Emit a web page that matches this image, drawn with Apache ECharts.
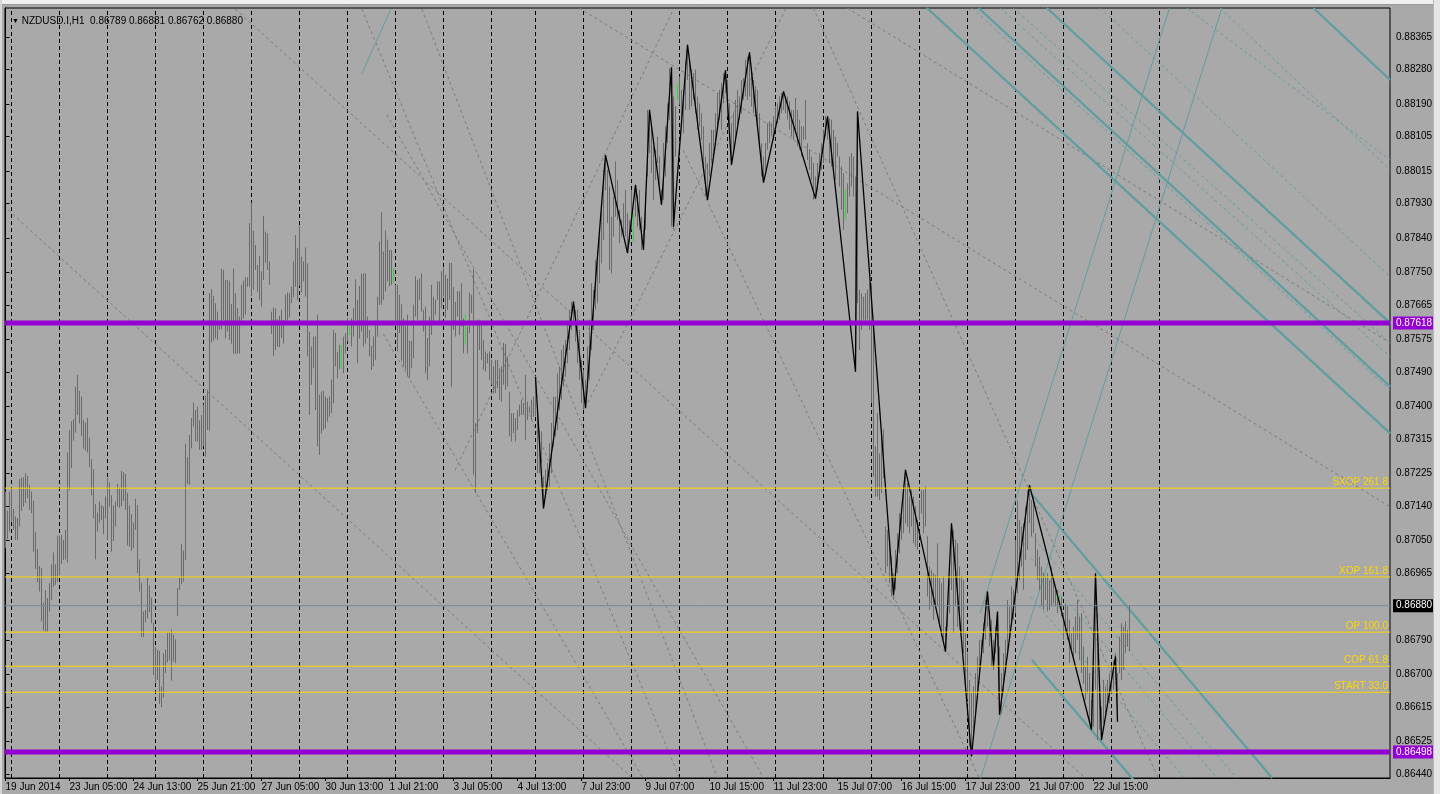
<!DOCTYPE html>
<html><head><meta charset="utf-8">
<script src="https://cdn.jsdelivr.net/npm/echarts@6.0.0/dist/echarts.min.js"></script>
<style>html,body{margin:0;padding:0;background:#A9A9A9;overflow:hidden}#c{width:1440px;height:794px}</style>
</head><body><div id="c"></div><script>
// ---------- data ----------
const symbolHeader = 'NZDUSD.I,H1  0.86789 0.86881 0.86762 0.86880';
const highs = [
0.87178,0.87128,0.87178,0.87187,0.87133,0.87113,0.87109,0.87211,0.87215,0.87215,
0.87226,0.87219,0.87196,0.87178,0.87154,0.87073,0.87028,0.86984,0.86978,0.86888,
0.86921,0.86900,0.86939,0.86988,0.87019,0.86988,0.87063,0.87063,0.87065,0.87052,
0.87078,0.87280,0.87339,0.87362,0.87367,0.87452,0.87483,0.87441,0.87426,0.87365,
0.87358,0.87370,0.87319,0.87263,0.87237,0.87145,0.87123,0.87152,0.87142,0.87139,
0.87165,0.87213,0.87202,0.87168,0.87142,0.87152,0.87198,0.87188,0.87232,0.87229,
0.87224,0.87175,0.87142,0.87119,0.87097,0.87159,0.87143,0.87001,0.86940,0.86865,
0.86869,0.86954,0.86933,0.86901,0.86836,0.86771,0.86765,0.86762,0.86669,0.86756,
0.86765,0.86810,0.86810,0.86818,0.86804,0.86792,0.86926,0.86954,0.87041,0.87024,
0.87303,0.87268,0.87326,0.87370,0.87411,0.87391,0.87400,0.87364,0.87378,0.87406,
0.87428,0.87444,0.87696,0.87707,0.87689,0.87670,0.87648,0.87624,0.87760,0.87757,
0.87731,0.87731,0.87729,0.87668,0.87760,0.87696,0.87657,0.87635,0.87718,0.87729,
0.87738,0.87738,0.87879,0.87933,0.87859,0.87822,0.87770,0.87794,0.87753,0.87898,
0.87857,0.87853,0.87779,0.87648,0.87659,0.87657,0.87628,0.87637,0.87653,0.87626,
0.87692,0.87698,0.87696,0.87713,0.87779,0.87848,0.87814,0.87872,0.87792,0.87779,
0.87816,0.87774,0.87596,0.87557,0.87583,0.87583,0.87640,0.87431,0.87439,0.87441,
0.87426,0.87422,0.87426,0.87471,0.87600,0.87592,0.87542,0.87561,0.87561,0.87583,
0.87592,0.87631,0.87609,0.87631,0.87657,0.87733,0.87679,0.87715,0.87747,0.87748,
0.87748,0.87635,0.87600,0.87559,0.87583,0.87618,0.87687,0.87831,0.87908,0.87805,
0.87860,0.87836,0.87809,0.87809,0.87763,0.87718,0.87718,0.87692,0.87667,0.87631,
0.87609,0.87640,0.87572,0.87572,0.87666,0.87740,0.87731,0.87735,0.87748,0.87653,
0.87661,0.87579,0.87635,0.87718,0.87687,0.87679,0.87727,0.87727,0.87753,0.87762,
0.87744,0.87735,0.87776,0.87775,0.87712,0.87674,0.87701,0.87701,0.87722,0.87631,
0.87640,0.87609,0.87698,0.87692,0.87759,0.87357,0.87627,0.87627,0.87622,0.87574,
0.87544,0.87539,0.87544,0.87522,0.87505,0.87522,0.87522,0.87500,0.87505,0.87566,
0.87564,0.87531,0.87439,0.87383,0.87383,0.87370,0.87391,0.87405,0.87418,0.87409,
0.87483,0.87413,0.87400,0.87418,0.87426,0.87478,0.87383,0.87339,0.87335,0.87217,
0.87235,0.87252,0.87304,0.87357,0.87426,0.87426,0.87487,0.87505,0.87548,0.87561,
0.87574,0.87618,0.87653,0.87674,0.87674,0.87653,0.87653,0.87600,0.87522,0.87496,
0.87470,0.87557,0.87627,0.87722,0.87705,0.87783,0.87809,0.87844,0.87914,0.88018,
0.88057,0.88018,0.87975,0.87896,0.87949,0.88040,0.87992,0.87914,0.87888,0.87931,
0.87966,0.87905,0.87888,0.87966,0.87905,0.87979,0.87953,0.87966,0.87896,0.87862,
0.87957,0.88175,0.88158,0.88132,0.88079,0.88071,0.88105,0.88053,0.87966,0.88088,
0.88132,0.88192,0.88284,0.88286,0.88210,0.88184,0.88245,0.88262,0.88227,0.88227,
0.88301,0.88345,0.88306,0.88280,0.88271,0.88280,0.88210,0.88192,0.88166,0.88132,
0.88053,0.88036,0.88088,0.88123,0.88123,0.88166,0.88219,0.88227,0.88245,0.88271,
0.88278,0.88253,0.88192,0.88140,0.88166,0.88201,0.88227,0.88210,0.88253,0.88258,
0.88306,0.88314,0.88325,0.88271,0.88253,0.88236,0.88227,0.88166,0.88088,0.88053,
0.88088,0.88140,0.88145,0.88140,0.88158,0.88184,0.88192,0.88210,0.88219,0.88223,
0.88210,0.88210,0.88197,0.88175,0.88175,0.88206,0.88175,0.88149,0.88132,0.88132,
0.88201,0.88088,0.88071,0.88053,0.88036,0.88001,0.88036,0.88062,0.88088,0.88123,
0.88158,0.88158,0.88153,0.88149,0.88123,0.88105,0.88088,0.88053,0.88027,0.88010,
0.87966,0.87983,0.88053,0.88062,0.88053,0.88001,0.88171,0.87705,0.87696,0.87687,
0.87696,0.87705,0.87722,0.87722,0.87600,0.87296,0.87383,0.87278,0.87330,0.87340,
0.87087,0.87078,0.87052,0.87008,0.86965,0.87026,0.87069,0.87121,0.87113,0.87182,
0.87235,0.87200,0.87165,0.87182,0.87165,0.87139,0.87104,0.87156,0.87182,0.87182,
0.87191,0.87061,0.86982,0.86973,0.86965,0.86960,0.87043,0.86952,0.86939,0.86956,
0.86825,0.86895,0.86947,0.87095,0.87078,0.87052,0.87043,0.86982,0.86956,0.86947,
0.86808,0.86756,0.86686,0.86651,0.86669,0.86704,0.86747,0.86791,0.86791,0.86834,
0.86895,0.86917,0.86869,0.86843,0.86791,0.86825,0.86860,0.86773,0.86704,0.86756,
0.86791,0.86895,0.86878,0.86930,0.86921,0.87052,0.87156,0.87104,0.87087,0.87095,
0.87139,0.87182,0.87195,0.87156,0.87165,0.87069,0.87026,0.87008,0.86982,0.86965,
0.86956,0.86965,0.86947,0.86982,0.86947,0.86930,0.86921,0.86908,0.86904,0.86860,
0.86886,0.86878,0.86843,0.86808,0.86825,0.86852,0.86895,0.86852,0.86860,0.86773,
0.86721,0.86747,0.86704,0.86634,0.86712,0.86965,0.86860,0.86712,0.86617,0.86686,
0.86669,0.86686,0.86704,0.86721,0.86738,0.86756,0.86704,0.86799,0.86834,0.86825,
0.86839,0.86817,0.86881
];
const lows = [
0.87030,0.87054,0.87074,0.87100,0.87078,0.87052,0.87052,0.87087,0.87128,0.87139,
0.87148,0.87161,0.87130,0.87122,0.87021,0.86976,0.86941,0.86917,0.86839,0.86815,
0.86812,0.86812,0.86865,0.86895,0.86930,0.86934,0.86943,0.86960,0.86989,0.87000,
0.87001,0.86993,0.87181,0.87239,0.87311,0.87332,0.87378,0.87356,0.87324,0.87290,
0.87285,0.87280,0.87242,0.87168,0.87108,0.87001,0.87074,0.87097,0.87104,0.87067,
0.87108,0.87052,0.87139,0.87021,0.87049,0.87087,0.87139,0.87136,0.87139,0.87154,
0.87130,0.87037,0.87034,0.87024,0.87030,0.87078,0.86965,0.86917,0.86799,0.86798,
0.86837,0.86847,0.86863,0.86834,0.86699,0.86680,0.86686,0.86623,0.86615,0.86640,
0.86704,0.86732,0.86738,0.86684,0.86734,0.86730,0.86853,0.86921,0.86936,0.86943,
0.87000,0.87198,0.87196,0.87291,0.87348,0.87309,0.87309,0.87287,0.87287,0.87296,
0.87269,0.87339,0.87337,0.87567,0.87572,0.87578,0.87574,0.87600,0.87602,0.87626,
0.87578,0.87596,0.87574,0.87564,0.87538,0.87538,0.87538,0.87539,0.87616,0.87631,
0.87640,0.87713,0.87713,0.87689,0.87705,0.87757,0.87700,0.87679,0.87661,0.87731,
0.87776,0.87757,0.87718,0.87590,0.87532,0.87548,0.87557,0.87555,0.87579,0.87565,
0.87613,0.87625,0.87633,0.87670,0.87686,0.87713,0.87679,0.87715,0.87698,0.87727,
0.87687,0.87531,0.87378,0.87457,0.87500,0.87391,0.87296,0.87274,0.87330,0.87339,
0.87343,0.87361,0.87374,0.87383,0.87409,0.87505,0.87474,0.87498,0.87498,0.87487,
0.87539,0.87570,0.87587,0.87557,0.87583,0.87626,0.87513,0.87578,0.87596,0.87557,
0.87565,0.87579,0.87531,0.87496,0.87505,0.87522,0.87583,0.87666,0.87666,0.87679,
0.87701,0.87727,0.87714,0.87718,0.87722,0.87622,0.87544,0.87592,0.87520,0.87505,
0.87496,0.87479,0.87474,0.87500,0.87526,0.87635,0.87627,0.87679,0.87648,0.87596,
0.87487,0.87470,0.87505,0.87587,0.87618,0.87640,0.87679,0.87618,0.87657,0.87687,
0.87631,0.87653,0.87679,0.87452,0.87600,0.87583,0.87635,0.87587,0.87609,0.87539,
0.87561,0.87539,0.87592,0.87644,0.87222,0.87174,0.87331,0.87548,0.87522,0.87496,
0.87492,0.87513,0.87470,0.87457,0.87435,0.87435,0.87448,0.87418,0.87413,0.87457,
0.87444,0.87452,0.87322,0.87309,0.87331,0.87309,0.87339,0.87374,0.87378,0.87378,
0.87313,0.87365,0.87383,0.87365,0.87374,0.87374,0.87226,0.87226,0.87252,0.87134,
0.87165,0.87182,0.87191,0.87226,0.87296,0.87322,0.87339,0.87391,0.87418,0.87452,
0.87478,0.87513,0.87548,0.87600,0.87618,0.87570,0.87513,0.87470,0.87409,0.87391,
0.87396,0.87461,0.87470,0.87548,0.87600,0.87653,0.87670,0.87722,0.87774,0.87835,
0.87966,0.87879,0.87757,0.87748,0.87844,0.87896,0.87888,0.87827,0.87844,0.87853,
0.87844,0.87801,0.87827,0.87862,0.87831,0.87896,0.87870,0.87862,0.87809,0.87809,
0.87862,0.88001,0.88062,0.88010,0.87940,0.87992,0.88036,0.87966,0.87931,0.87940,
0.88001,0.88088,0.88149,0.87870,0.87862,0.88053,0.88201,0.88188,0.88158,0.88114,
0.88175,0.88253,0.88175,0.88184,0.88201,0.88166,0.88123,0.88132,0.88097,0.88018,
0.87949,0.87940,0.88001,0.88036,0.88053,0.88088,0.88123,0.88149,0.88123,0.88192,
0.88219,0.88158,0.88097,0.88031,0.88062,0.88097,0.88132,0.88149,0.88166,0.88201,
0.88210,0.88201,0.88210,0.88184,0.88166,0.88158,0.88123,0.88088,0.88001,0.87985,
0.88018,0.88071,0.88088,0.88105,0.88097,0.88123,0.88140,0.88149,0.88166,0.88175,
0.88166,0.88149,0.88123,0.88105,0.88097,0.88114,0.88079,0.88071,0.88053,0.88097,
0.88097,0.88044,0.88018,0.87992,0.87940,0.87943,0.87966,0.88001,0.88018,0.88036,
0.88105,0.88097,0.88036,0.88027,0.88018,0.87992,0.88053,0.87975,0.87914,0.87862,
0.87888,0.87905,0.87949,0.87975,0.87949,0.87491,0.87670,0.87548,0.87600,0.87627,
0.87618,0.87627,0.87600,0.87409,0.87217,0.87165,0.87165,0.87156,0.87174,0.87213,
0.86965,0.86982,0.86939,0.86904,0.86895,0.86921,0.86965,0.87017,0.87052,0.87069,
0.87095,0.87087,0.87069,0.87087,0.87043,0.87034,0.87026,0.87104,0.87121,0.87069,
0.87087,0.86904,0.86869,0.86878,0.86843,0.86878,0.86878,0.86825,0.86799,0.86791,
0.86760,0.86825,0.86860,0.86921,0.86808,0.86878,0.86825,0.86817,0.86808,0.86756,
0.86651,0.86634,0.86512,0.86486,0.86529,0.86590,0.86634,0.86686,0.86756,0.86756,
0.86791,0.86825,0.86773,0.86721,0.86712,0.86756,0.86773,0.86595,0.86599,0.86651,
0.86704,0.86747,0.86791,0.86825,0.86843,0.86860,0.86912,0.86947,0.86982,0.86921,
0.86999,0.87026,0.87095,0.87061,0.87069,0.86982,0.86947,0.86921,0.86878,0.86869,
0.86895,0.86865,0.86869,0.86878,0.86886,0.86878,0.86860,0.86873,0.86852,0.86791,
0.86808,0.86791,0.86730,0.86756,0.86738,0.86756,0.86791,0.86738,0.86704,0.86677,
0.86634,0.86651,0.86573,0.86556,0.86564,0.86660,0.86529,0.86556,0.86529,0.86573,
0.86590,0.86617,0.86625,0.86651,0.86660,0.86686,0.86577,0.86704,0.86686,0.86712,
0.86756,0.86773,0.86762
];
const greenBars = [168,172,194,230,314,336,420,527];
const zigzagBars = [265,269,284,290,300,311,315,319,322,328,333,334,341,351,360,363,372,379,389,405,411,425,426,444,450,470,473,483,491,494,496,497,512,543,545,548,555,556];
const zigzagPrices = [0.87478,0.87134,0.87674,0.87396,0.88057,0.87801,0.87979,0.87809,0.88175,0.87927,0.88286,0.87870,0.88345,0.87940,0.88278,0.88031,0.88325,0.87985,0.88223,0.87943,0.88158,0.87491,0.88171,0.86908,0.87235,0.86760,0.87095,0.86486,0.86917,0.86721,0.86865,0.86595,0.87195,0.86556,0.86965,0.86529,0.86747,0.86577];
const xLabelBars = [0,32,64,96,128,160,192,224,256,288,320,352,384,416,448,480,512,544];
const xLabelTexts = ['19 Jun 2014','23 Jun 05:00','24 Jun 13:00','25 Jun 21:00','27 Jun 05:00','30 Jun 13:00','1 Jul 21:00','3 Jul 05:00','4 Jul 13:00','7 Jul 23:00','9 Jul 07:00','10 Jul 15:00','11 Jul 23:00','15 Jul 07:00','16 Jul 15:00','17 Jul 23:00','21 Jul 07:00','22 Jul 15:00'];
const separatorBars = [3,27,51,75,99,123,147,171,195,219,243,265,289,313,337,361,385,409,433,457,481,505,529,553,577];
const yTickValues = [0.88365,0.88280,0.88190,0.88105,0.88015,0.87930,0.87840,0.87750,0.87665,0.87575,0.87490,0.87400,0.87315,0.87225,0.87140,0.87050,0.86965,0.86790,0.86700,0.86615,0.86525,0.86440];
const levelNames = ['SXOP 261.8','XOP 161.8','OP 100.0','COP 61.8','START 33.0'];
const levelPrices = [0.87187,0.86955,0.86811,0.86722,0.86654];
const supportPrices = [0.87618,0.86498];
const bidPrice = 0.86880;
const thickCyanLines = [
  [[460.7,0.88441],[692.35,0.87330]],
  [[486.5,0.88441],[692.35,0.87452]],
  [[520.7,0.88441],[692.35,0.87618]],
  [[654.0,0.88441],[692.35,0.88253]],
  [[512.7,0.87174],[633.35,0.86430]],
  [[513.2,0.86738],[564.0,0.86425]]
];
const thinCyanLines = [
  [[178.2,0.88270],[192.7,0.88438]],
  [[487.35,0.86861],[582.0,0.88441]],
  [[487.35,0.86425],[608.2,0.88441]]
];
const dashedCyanLines = [
  [[483.2,0.88441],[692.35,0.87443]],
  [[497.35,0.88441],[692.35,0.87530]],
  [[503.85,0.88441],[692.35,0.87566]],
  [[547.35,0.88441],[692.35,0.87739]],
  [[590.7,0.88441],[692.35,0.88044]],
  [[607.35,0.88441],[692.35,0.88018]],
  [[512.7,0.87065],[615.65,0.86430]],
  [[512.7,0.87004],[605.8,0.86430]],
  [[512.7,0.86903],[589.5,0.86430]]
];
const dashedGrayLines = [
  [[1.35,0.87913],[313.35,0.86430]],
  [[114.85,0.88438],[539.85,0.86430]],
  [[178.2,0.88438],[337.0,0.86430]],
  [[208.2,0.88438],[356.0,0.86430]],
  [[190.7,0.88162],[379.05,0.86430]],
  [[188.85,0.87590],[318.75,0.86430]],
  [[286.85,0.88441],[692.35,0.87138]],
  [[420.85,0.88441],[692.35,0.87566]],
  [[338.85,0.88070],[486.85,0.86430]],
  [[403.85,0.88441],[576.35,0.86430]],
  [[224.85,0.87234],[334.0,0.88438]],
  [[289.85,0.87396],[390.35,0.88441]]
];

// ---------- chart ----------
const FONT = '"Liberation Sans",Arial,sans-serif';
const CYAN = '#5F9EA0';
const XMIN = -0.25, XMAX = 692.25;
const chart = echarts.init(document.getElementById('c'), null, {renderer:'canvas'});
const barData = highs.map((h,i)=>[i, h, lows[i], greenBars.includes(i)?1:0]);

function segSeries(list, style, z){
  return list.map(pts => ({type:'line', data:pts, symbol:'none', silent:true, animation:false, clip:true, z:z, lineStyle:style}));
}

const series = [];
// day separators
series.push(...separatorBars.map(b => ({type:'line', data:[[b,0.86430],[b,0.88441]], symbol:'none', silent:true, animation:false, z:1,
  lineStyle:{color:'#000', type:[4,3], width:1}})));
series.push(...segSeries(dashedGrayLines, {color:'#7c7c7c', width:1, type:[3,3]}, 2));
series.push(...segSeries(dashedCyanLines, {color:CYAN, width:1, type:[3,3]}, 2));
series.push(...segSeries(thinCyanLines, {color:CYAN, width:1}, 2));
series.push(...segSeries(thickCyanLines, {color:CYAN, width:2.2}, 2));
series.push({type:'custom', data:barData, z:3, silent:true, animation:false, clip:true,
  encode:{x:0, y:[1,2]},
  renderItem:function(params, api){
    const i = api.value(0);
    const t = api.coord([i, api.value(1)]);
    const b = api.coord([i, api.value(2)]);
    const x = Math.round(t[0]-0.5)+0.5;
    let y1 = t[1], y2 = b[1];
    if (y2 - y1 < 1) y2 = y1 + 1;
    return {type:'line', shape:{x1:x, y1:y1, x2:x, y2:y2},
      style:{stroke: api.value(3) ? '#33d633' : '#6a6a6a', lineWidth:1}};
  }});
series.push({type:'line', data: zigzagBars.map((b,i)=>[b, zigzagPrices[i]]), symbol:'none', silent:true, animation:false, z:4,
  lineStyle:{color:'#000', width:1.3}});
// Fibonacci-style levels with captions at the right end, above the line
levelPrices.forEach((p,i) => series.push({type:'line', symbol:'none', silent:true, animation:false, z:5,
  lineStyle:{color:'#FFD700', width:1},
  data:[[XMIN,p],[XMAX,p]],
  endLabel:{show:true, formatter:levelNames[i], distance:0, align:'right', verticalAlign:'bottom', offset:[-2,-1],
    color:'#FFD700', fontSize:10, fontFamily:FONT}}));
// bid line
series.push({type:'line', symbol:'none', silent:true, animation:false, z:5,
  lineStyle:{color:'#778899', width:1}, data:[[XMIN,bidPrice],[XMAX,bidPrice]],
  endLabel:{show:true, formatter:bidPrice.toFixed(5), distance:3, color:'#fff', backgroundColor:'#000', padding:[2,3,1,3], fontSize:10, fontFamily:FONT}});
// support / resistance lines
supportPrices.forEach(p => series.push({type:'line', symbol:'none', silent:true, animation:false, z:6,
  lineStyle:{color:'#9400D3', width:5}, data:[[XMIN,p],[XMAX,p]],
  endLabel:{show:true, formatter:p.toFixed(5), distance:3, color:'#fff', backgroundColor:'#9400D3', padding:[2,3,1,3], fontSize:10, fontFamily:FONT}}));

chart.setOption({
  animation:false,
  backgroundColor:'#A9A9A9',
  title:{text:'{t|▼} ' + symbolHeader, left:7, top:11,
    textStyle:{fontSize:10, fontWeight:'normal', color:'#000', fontFamily:FONT, rich:{t:{fontSize:7, color:'#000'}}}},
  grid:{left:5, top:8, width:1385, height:770, show:true, borderColor:'#000', borderWidth:1, backgroundColor:'transparent'},
  xAxis:{type:'value', min:XMIN, max:XMAX,
    axisLine:{show:true, lineStyle:{color:'#000'}},
    axisTick:{show:true, customValues:xLabelBars, length:3, lineStyle:{color:'#000'}},
    axisLabel:{customValues:xLabelBars, align:'left', margin:4, fontSize:10, color:'#000', fontFamily:FONT,
      formatter:v=>{const k=xLabelBars.indexOf(Math.round(v)); return k>=0?xLabelTexts[k]:'';}},
    splitLine:{show:false}},
  yAxis:{type:'value', position:'right', min:0.86430, max:0.88441, scale:true,
    axisLine:{show:true, lineStyle:{color:'#000'}},
    axisTick:{show:true, customValues:yTickValues, length:4, lineStyle:{color:'#000'}},
    axisLabel:{customValues:yTickValues, margin:6, fontSize:10, color:'#000', fontFamily:FONT, formatter:v=>v.toFixed(5)},
    splitLine:{show:false}},
  graphic:[
    {type:'rect', shape:{x:0,y:0,width:1440,height:4}, style:{fill:'#F0F0F0'}, silent:true, z:100},
    {type:'rect', shape:{x:0,y:4,width:1440,height:1}, style:{fill:'#9A9A9A'}, silent:true, z:100},
    {type:'rect', shape:{x:1434,y:0,width:6,height:794}, style:{fill:'#E6E6E6'}, silent:true, z:100},
    {type:'rect', shape:{x:1433,y:0,width:1,height:794}, style:{fill:'#B8B8B8'}, silent:true, z:100},
    {type:'rect', shape:{x:0,y:0,width:2,height:794}, style:{fill:'#D6D6D6'}, silent:true, z:100}
  ],
  series: series
});
</script></body></html>
